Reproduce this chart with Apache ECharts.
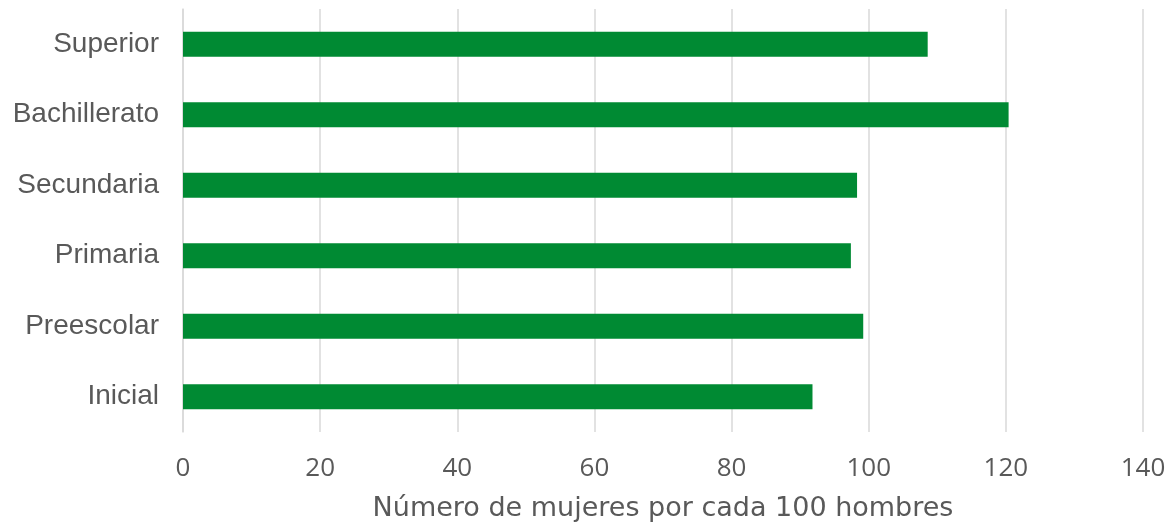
<!DOCTYPE html>
<html lang="es" style="height: 100%">
<head>
  <meta charset="utf-8">
</head>
<body style="height: 100%; margin: 0; background: #fff">
  <div id="container" style="width: 1170px; height: 523px"></div>
  <script type="text/javascript" src="https://fastly.jsdelivr.net/npm/echarts@6/dist/echarts.min.js"></script>
  <script type="text/javascript">
var niveles = ['Inicial', 'Preescolar', 'Primaria', 'Secundaria', 'Bachillerato', 'Superior'];
var mujeresPor100 = [91.8, 99.2, 97.4, 98.3, 120.4, 108.6];
var ejeTitulo = 'Número de mujeres por cada 100 hombres';

var myChart = echarts.init(document.getElementById('container'), null, { renderer: 'canvas' });

var option = {
    backgroundColor: '#ffffff',
    animation: false,
    grid: {
        left: 183,
        right: 27,
        top: 9,
        bottom: 91,
        outerBoundsMode: 'none',
        containLabel: false
    },
    xAxis: {
        type: 'value',
        min: 0,
        max: 140,
        interval: 20,
        name: ejeTitulo,
        nameLocation: 'middle',
        nameGap: 63,
        nameTextStyle: {
            fontFamily: 'DejaVu Sans',
            fontSize: 27,
            color: '#595959'
        },
        axisLine: { show: false },
        axisTick: { show: false },
        axisLabel: {
            margin: 24,
            fontFamily: 'Open Sans',
            fontSize: 26,
            color: '#595959'
        },
        splitLine: {
            lineStyle: { color: '#d9d9d9', width: 1.5 }
        }
    },
    yAxis: {
        type: 'category',
        data: niveles,
        axisLine: {
            lineStyle: { color: '#d9d9d9', width: 1.5 }
        },
        axisTick: { show: false },
        axisLabel: {
            margin: 24,
            fontFamily: 'Liberation Sans',
            fontSize: 28,
            color: '#595959'
        },
        splitLine: { show: false }
    },
    series: [
        {
            type: 'bar',
            data: mujeresPor100,
            barWidth: 25,
            itemStyle: { color: '#008a33' }
        }
    ]
};

myChart.setOption(option);
window.addEventListener('resize', myChart.resize);
  </script>
</body>
</html>
